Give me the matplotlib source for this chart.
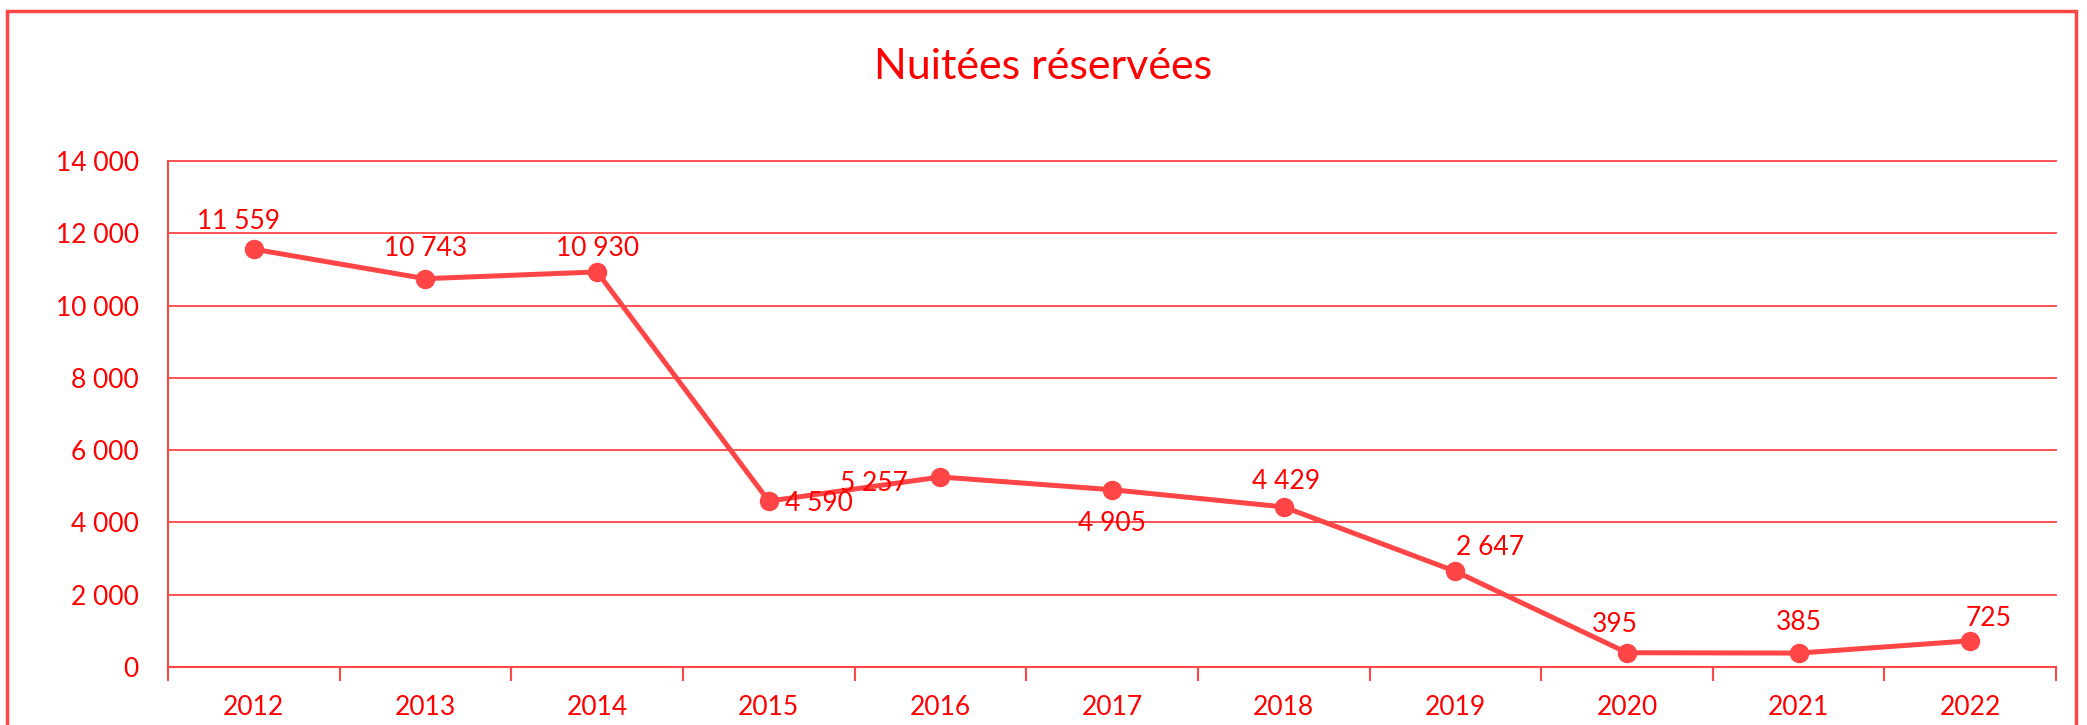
import matplotlib.pyplot as plt
from matplotlib.patches import Rectangle
from matplotlib.ticker import FuncFormatter

plt.rcParams['font.family'] = ['Lato', 'DejaVu Sans']

# Données
annees = ["2012", "2013", "2014", "2015", "2016", "2017", "2018", "2019", "2020", "2021", "2022"]
nuitees = [11559, 10743, 10930, 4590, 5257, 4905, 4429, 2647, 395, 385, 725]
# position des étiquettes : décalage (points) par rapport au point
decalages = [(-11, 20), (0, 22), (0, 17), (36, -2), (-48, -5), (0, -24),
             (2, 18), (25, 17), (-9, 20), (0, 22), (13, 16)]

ROUGE = "#FF0000"
LIGNE = "#FF4545"

fig = plt.figure(figsize=(20.87, 7.25), dpi=100)
ax = fig.add_axes([0.0805, 0.08, 0.9047, 0.698])

x = list(range(len(annees)))
ax.plot(x, nuitees, color=LIGNE, linewidth=3.6, marker="o", markersize=13, zorder=3, clip_on=False)

for xi, yi, (dx, dy) in zip(x, nuitees, decalages):
    texte = f"{yi:,}".replace(",", " ")
    ax.annotate(texte, (xi, yi), xytext=(dx, dy), textcoords="offset points",
                ha="center", va="center", color=ROUGE, fontsize=19, zorder=4)

ax.set_xlim(-0.5, len(annees) - 0.5)
ax.set_ylim(0, 14000)
ax.set_yticks(range(0, 14001, 2000))
ax.yaxis.set_major_formatter(FuncFormatter(lambda v, p: f"{int(v):,}".replace(",", " ")))
ax.set_xticks(x)
ax.set_xticklabels(annees)
ax.set_xticks([i - 0.5 for i in range(len(annees) + 1)], minor=True)

ax.tick_params(axis="y", length=0, labelsize=19, labelcolor=ROUGE, pad=21)
ax.tick_params(axis="x", which="major", length=0, labelsize=19, labelcolor=ROUGE, pad=20)
ax.tick_params(axis="x", which="minor", length=10, width=1.5, color=LIGNE, direction="out")

ax.grid(axis="y", color=LIGNE, linewidth=1.3, clip_on=False)
ax.set_axisbelow(True)
for cote in ["top", "right"]:
    ax.spines[cote].set_visible(False)
for cote in ["left", "bottom"]:
    ax.spines[cote].set_color(LIGNE)
    ax.spines[cote].set_linewidth(1.5)

fig.text(0.5, 0.907, "Nuitées réservées", ha="center", va="center", color=ROUGE, fontsize=31)

# Cadre extérieur
fig.patches.append(Rectangle((0.0034, -0.05), 0.9913, 1.035, transform=fig.transFigure,
                             fill=False, edgecolor=LIGNE, linewidth=2.5))

plt.savefig("out.png", dpi=100)
plt.close()
